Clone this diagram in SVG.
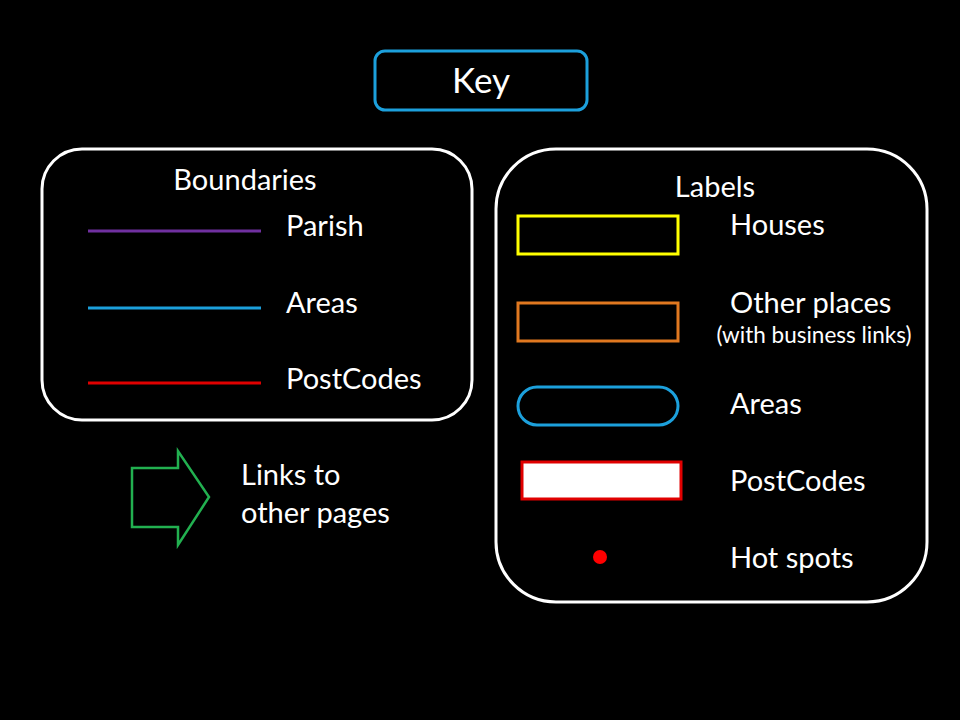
<svg xmlns="http://www.w3.org/2000/svg" width="960" height="720" viewBox="0 0 960 720">
<style>
text{font-family:Lato,"Open Sans","Liberation Sans",sans-serif;fill:#fff;font-size:29px}
text.big{font-size:35px}
text.small{font-size:22.5px}
.box{fill:none;stroke:#fff;stroke-width:3}
.sw{stroke-width:3}
</style>
<rect width="960" height="720" fill="#000"/>
<g id="key"><rect x="375" y="51" width="212" height="59" rx="10" fill="none" stroke="#1CA0DC" stroke-width="3"/><text class="big" x="481" y="93" text-anchor="middle">Key</text></g>
<g id="boundaries">
<rect class="box" x="42" y="149" width="430" height="271" rx="40"/>
<text x="245" y="190" text-anchor="middle">Boundaries</text>
<line x1="88" y1="231" x2="261" y2="231" stroke="#7030A0" class="sw"/>
<text x="286" y="236">Parish</text>
<line x1="88" y1="308" x2="261" y2="308" stroke="#1CA0DC" class="sw"/>
<text x="286" y="313">Areas</text>
<line x1="88" y1="383" x2="261" y2="383" stroke="#E00000" class="sw"/>
<text x="286" y="389">PostCodes</text>
</g>
<g id="links">
<polygon points="132,468 178,468 178,451 209,497 178,545 178,527 132,527" fill="none" stroke="#22B050" stroke-width="2.5"/>
<text x="241" y="485">Links to</text>
<text x="241" y="523">other pages</text>
</g>
<g id="labels">
<rect class="box" x="496" y="149" width="431" height="453" rx="60"/>
<text x="715" y="197" text-anchor="middle">Labels</text>
<rect x="518" y="216" width="160" height="38" fill="none" stroke="#FFFF00" class="sw"/>
<text x="730" y="235">Houses</text>
<rect x="518" y="303" width="160" height="38" fill="none" stroke="#E07820" class="sw"/>
<text x="730" y="313">Other places</text>
<text class="small" x="814" y="343" text-anchor="middle">(with business links)</text>
<rect x="518" y="387" width="160" height="38" rx="19" fill="none" stroke="#1CA0DC" class="sw"/>
<text x="730" y="414">Areas</text>
<rect x="522" y="462" width="159" height="37" fill="#fff" stroke="#E00000" class="sw"/>
<text x="730" y="491">PostCodes</text>
<circle cx="600" cy="557" r="7" fill="#FF0000"/>
<text x="730" y="568">Hot spots</text>
</g>
</svg>
